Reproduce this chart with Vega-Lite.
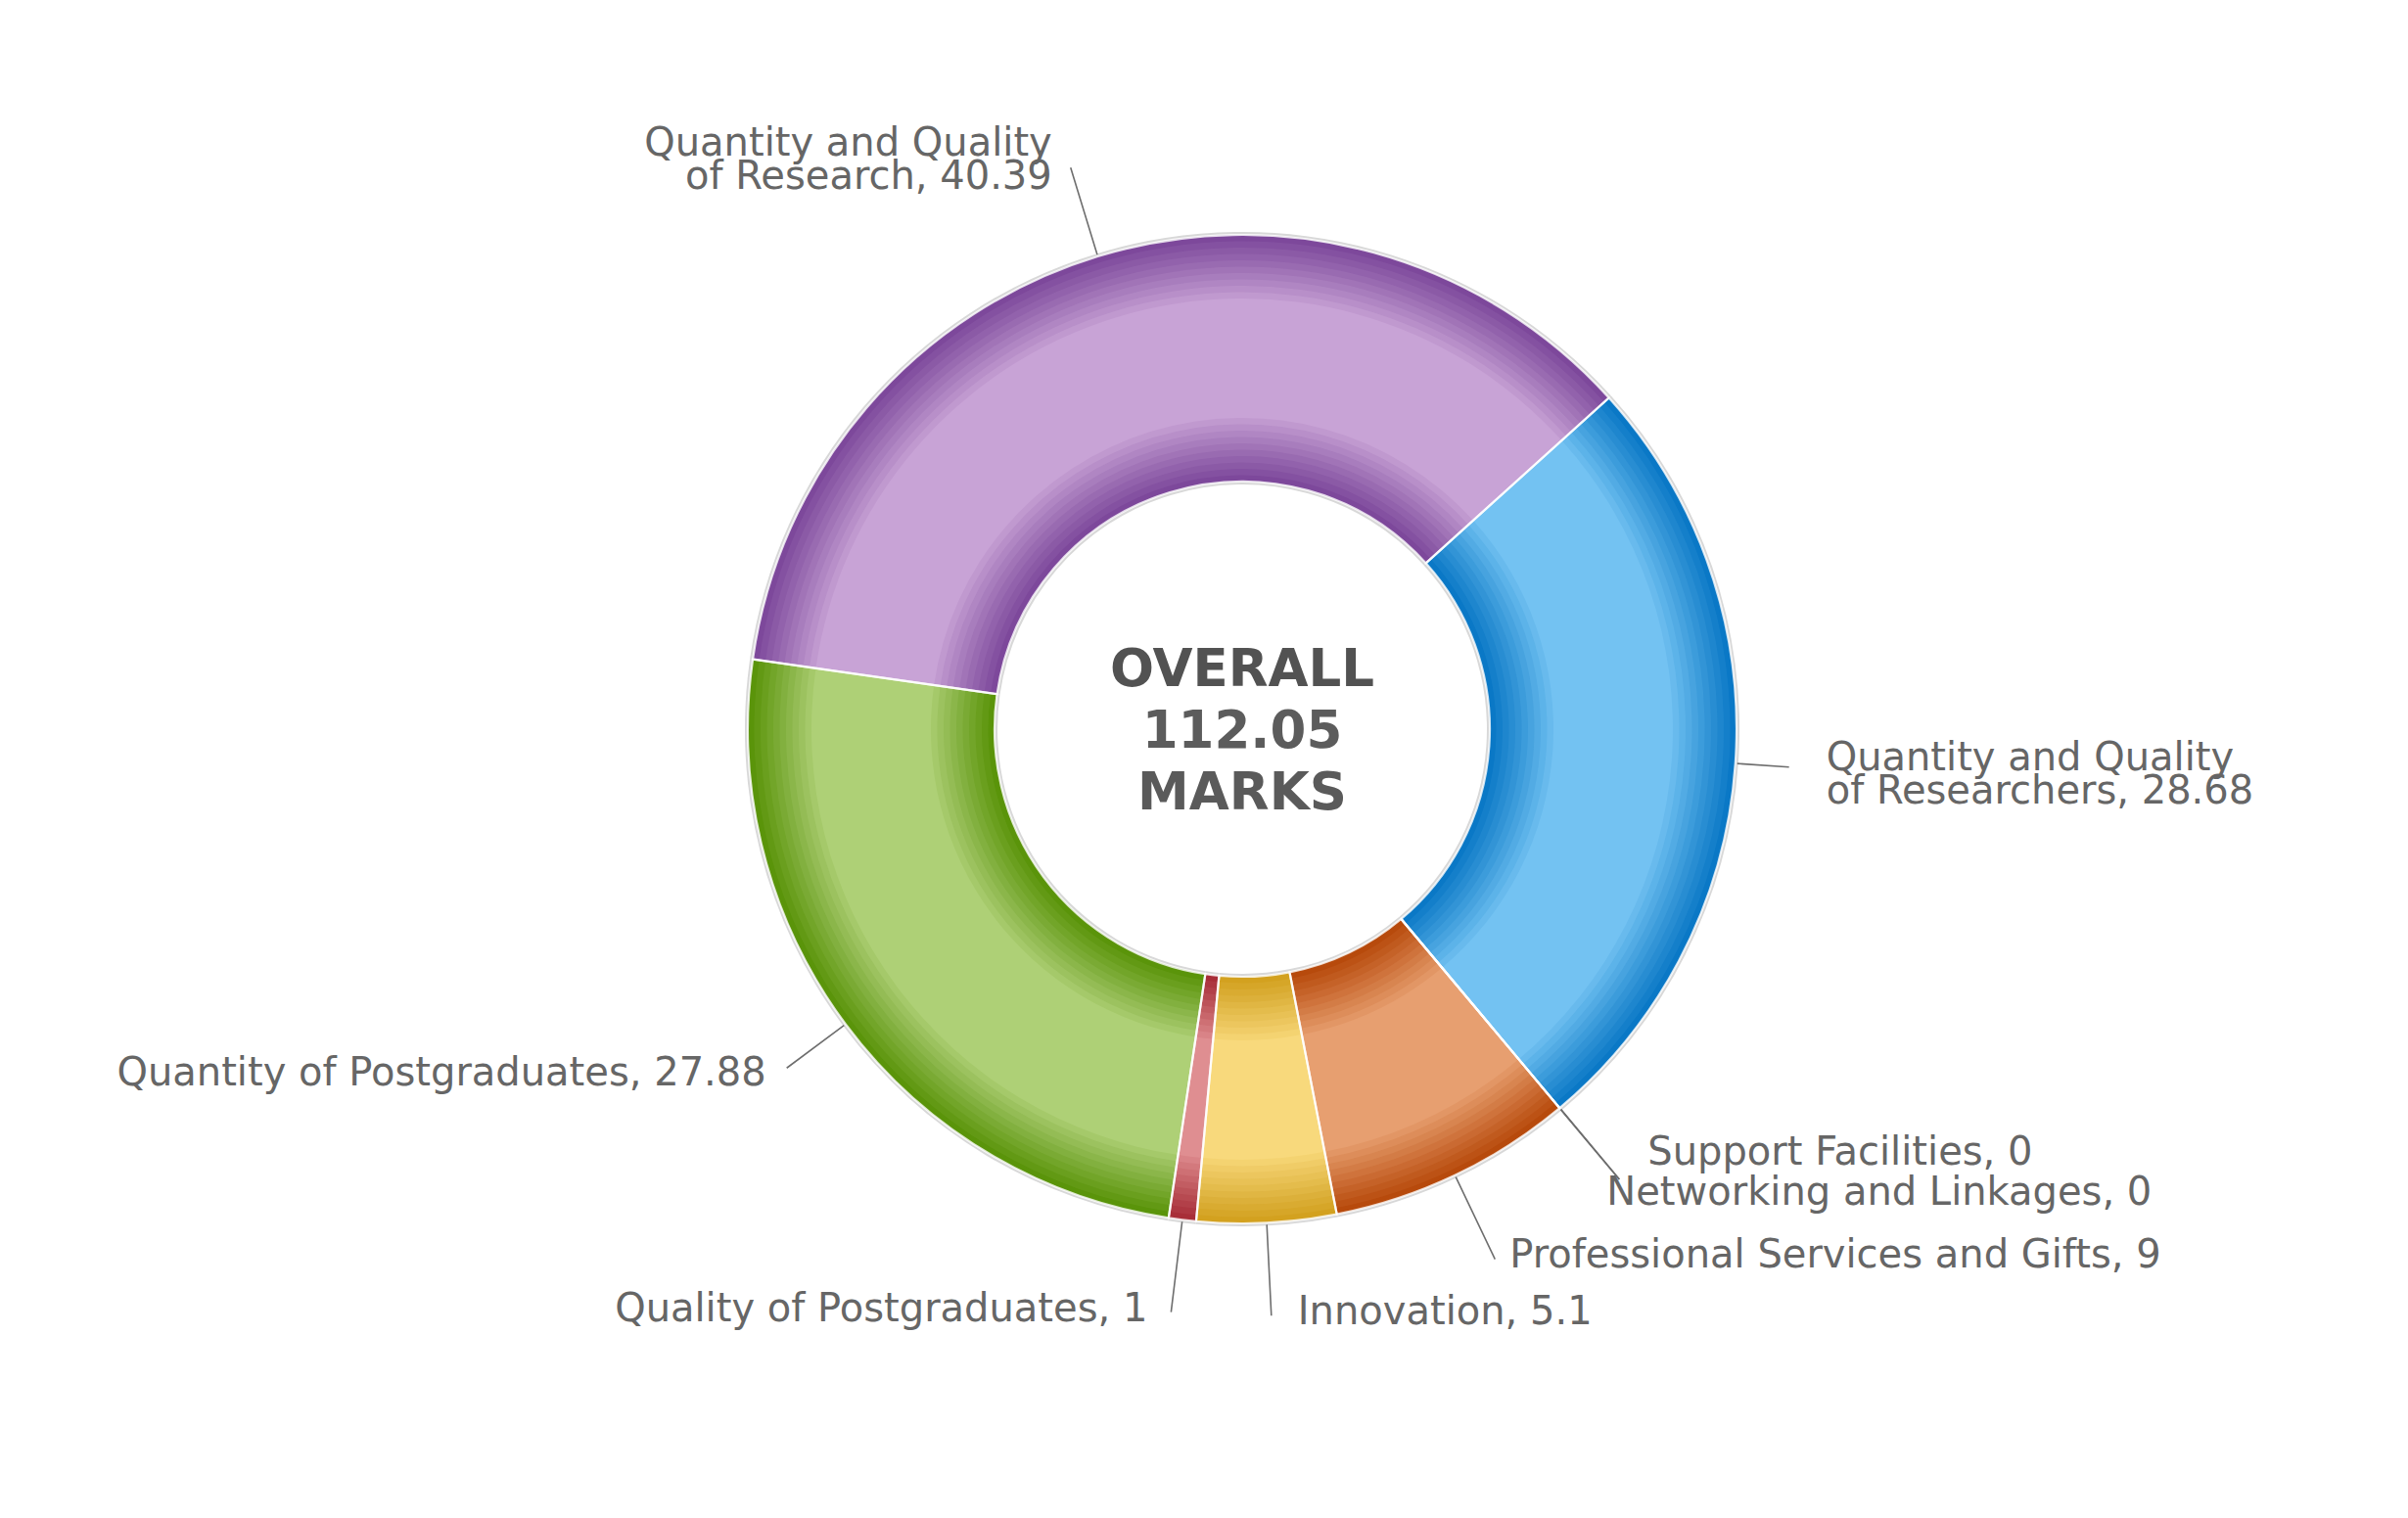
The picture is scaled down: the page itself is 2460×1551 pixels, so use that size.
{
  "$schema": "https://vega.github.io/schema/vega-lite/v6.json",
  "width": 2460,
  "height": 1551,
  "autosize": {"type": "fit", "contains": "padding"},
  "padding": {"left": 78, "top": 0, "right": 0, "bottom": 61},
  "background": "#ffffff",
  "config": {"view": {"stroke": null}},
  "data": {"values": [
    {"cat": "Quantity and Quality of Researchers", "label": "Quantity and Quality\nof Researchers, 28.68", "value": 28.68, "order": 1},
    {"cat": "Support Facilities", "label": "Support Facilities, 0", "value": 0, "order": 2},
    {"cat": "Networking and Linkages", "label": "Networking and Linkages, 0", "value": 0, "order": 3},
    {"cat": "Professional Services and Gifts", "label": "Professional Services and Gifts, 9", "value": 9, "order": 4},
    {"cat": "Innovation", "label": "Innovation, 5.1", "value": 5.1, "order": 5},
    {"cat": "Quality of Postgraduates", "label": "Quality of Postgraduates, 1", "value": 1, "order": 6},
    {"cat": "Quantity of Postgraduates", "label": "Quantity of Postgraduates, 27.88", "value": 27.88, "order": 7},
    {"cat": "Quantity and Quality of Research", "label": "Quantity and Quality\nof Research, 40.39", "value": 40.39, "order": 8}
  ]},
  "resolve": {"scale": {"color": "independent"}},
  "layer": [
    {"mark": {"type": "arc", "innerRadius": 250, "outerRadius": 508, "fill": "#d8d8d8"},
     "encoding": {"theta": {"field": "value", "type": "quantitative", "stack": true, "scale": {"range": [0.83601, 7.1192]}}, "order": {"field": "order", "type": "quantitative"}}},
    {"mark": {"type": "arc", "innerRadius": 253, "outerRadius": 505},
     "encoding": {"theta": {"field": "value", "type": "quantitative", "stack": true}, "order": {"field": "order", "type": "quantitative"},
       "color": {"field": "cat", "type": "nominal", "legend": null, "scale": {"domain": ["Quantity and Quality of Researchers","Support Facilities","Networking and Linkages","Professional Services and Gifts","Innovation","Quality of Postgraduates","Quantity of Postgraduates","Quantity and Quality of Research"], "range": ["#0a78c6","#999999","#999999","#b74a0c","#d3a11f","#a82e38","#5a940a","#7d489b"]}}}},
    {"mark": {"type": "arc", "innerRadius": 259.5, "outerRadius": 498.5, "opacity": 0.1},
     "encoding": {"theta": {"field": "value", "type": "quantitative", "stack": true}, "order": {"field": "order", "type": "quantitative"},
       "color": {"field": "cat", "type": "nominal", "legend": null, "scale": {"domain": ["Quantity and Quality of Researchers","Support Facilities","Networking and Linkages","Professional Services and Gifts","Innovation","Quality of Postgraduates","Quantity of Postgraduates","Quantity and Quality of Research"], "range": ["#73c2f2","#cccccc","#cccccc","#e79f70","#f8d97c","#df8e91","#aed076","#c8a3d6"]}}}},
    {"mark": {"type": "arc", "innerRadius": 266, "outerRadius": 492, "opacity": 0.111},
     "encoding": {"theta": {"field": "value", "type": "quantitative", "stack": true}, "order": {"field": "order", "type": "quantitative"},
       "color": {"field": "cat", "type": "nominal", "legend": null, "scale": {"domain": ["Quantity and Quality of Researchers","Support Facilities","Networking and Linkages","Professional Services and Gifts","Innovation","Quality of Postgraduates","Quantity of Postgraduates","Quantity and Quality of Research"], "range": ["#73c2f2","#cccccc","#cccccc","#e79f70","#f8d97c","#df8e91","#aed076","#c8a3d6"]}}}},
    {"mark": {"type": "arc", "innerRadius": 272.5, "outerRadius": 485.5, "opacity": 0.125},
     "encoding": {"theta": {"field": "value", "type": "quantitative", "stack": true}, "order": {"field": "order", "type": "quantitative"},
       "color": {"field": "cat", "type": "nominal", "legend": null, "scale": {"domain": ["Quantity and Quality of Researchers","Support Facilities","Networking and Linkages","Professional Services and Gifts","Innovation","Quality of Postgraduates","Quantity of Postgraduates","Quantity and Quality of Research"], "range": ["#73c2f2","#cccccc","#cccccc","#e79f70","#f8d97c","#df8e91","#aed076","#c8a3d6"]}}}},
    {"mark": {"type": "arc", "innerRadius": 279, "outerRadius": 479, "opacity": 0.143},
     "encoding": {"theta": {"field": "value", "type": "quantitative", "stack": true}, "order": {"field": "order", "type": "quantitative"},
       "color": {"field": "cat", "type": "nominal", "legend": null, "scale": {"domain": ["Quantity and Quality of Researchers","Support Facilities","Networking and Linkages","Professional Services and Gifts","Innovation","Quality of Postgraduates","Quantity of Postgraduates","Quantity and Quality of Research"], "range": ["#73c2f2","#cccccc","#cccccc","#e79f70","#f8d97c","#df8e91","#aed076","#c8a3d6"]}}}},
    {"mark": {"type": "arc", "innerRadius": 285.5, "outerRadius": 472.5, "opacity": 0.167},
     "encoding": {"theta": {"field": "value", "type": "quantitative", "stack": true}, "order": {"field": "order", "type": "quantitative"},
       "color": {"field": "cat", "type": "nominal", "legend": null, "scale": {"domain": ["Quantity and Quality of Researchers","Support Facilities","Networking and Linkages","Professional Services and Gifts","Innovation","Quality of Postgraduates","Quantity of Postgraduates","Quantity and Quality of Research"], "range": ["#73c2f2","#cccccc","#cccccc","#e79f70","#f8d97c","#df8e91","#aed076","#c8a3d6"]}}}},
    {"mark": {"type": "arc", "innerRadius": 292, "outerRadius": 466, "opacity": 0.2},
     "encoding": {"theta": {"field": "value", "type": "quantitative", "stack": true}, "order": {"field": "order", "type": "quantitative"},
       "color": {"field": "cat", "type": "nominal", "legend": null, "scale": {"domain": ["Quantity and Quality of Researchers","Support Facilities","Networking and Linkages","Professional Services and Gifts","Innovation","Quality of Postgraduates","Quantity of Postgraduates","Quantity and Quality of Research"], "range": ["#73c2f2","#cccccc","#cccccc","#e79f70","#f8d97c","#df8e91","#aed076","#c8a3d6"]}}}},
    {"mark": {"type": "arc", "innerRadius": 298.5, "outerRadius": 459.5, "opacity": 0.25},
     "encoding": {"theta": {"field": "value", "type": "quantitative", "stack": true}, "order": {"field": "order", "type": "quantitative"},
       "color": {"field": "cat", "type": "nominal", "legend": null, "scale": {"domain": ["Quantity and Quality of Researchers","Support Facilities","Networking and Linkages","Professional Services and Gifts","Innovation","Quality of Postgraduates","Quantity of Postgraduates","Quantity and Quality of Research"], "range": ["#73c2f2","#cccccc","#cccccc","#e79f70","#f8d97c","#df8e91","#aed076","#c8a3d6"]}}}},
    {"mark": {"type": "arc", "innerRadius": 305, "outerRadius": 453, "opacity": 0.333},
     "encoding": {"theta": {"field": "value", "type": "quantitative", "stack": true}, "order": {"field": "order", "type": "quantitative"},
       "color": {"field": "cat", "type": "nominal", "legend": null, "scale": {"domain": ["Quantity and Quality of Researchers","Support Facilities","Networking and Linkages","Professional Services and Gifts","Innovation","Quality of Postgraduates","Quantity of Postgraduates","Quantity and Quality of Research"], "range": ["#73c2f2","#cccccc","#cccccc","#e79f70","#f8d97c","#df8e91","#aed076","#c8a3d6"]}}}},
    {"mark": {"type": "arc", "innerRadius": 311.5, "outerRadius": 446.5, "opacity": 0.5},
     "encoding": {"theta": {"field": "value", "type": "quantitative", "stack": true}, "order": {"field": "order", "type": "quantitative"},
       "color": {"field": "cat", "type": "nominal", "legend": null, "scale": {"domain": ["Quantity and Quality of Researchers","Support Facilities","Networking and Linkages","Professional Services and Gifts","Innovation","Quality of Postgraduates","Quantity of Postgraduates","Quantity and Quality of Research"], "range": ["#73c2f2","#cccccc","#cccccc","#e79f70","#f8d97c","#df8e91","#aed076","#c8a3d6"]}}}},
    {"mark": {"type": "arc", "innerRadius": 318, "outerRadius": 440, "opacity": 1},
     "encoding": {"theta": {"field": "value", "type": "quantitative", "stack": true}, "order": {"field": "order", "type": "quantitative"},
       "color": {"field": "cat", "type": "nominal", "legend": null, "scale": {"domain": ["Quantity and Quality of Researchers","Support Facilities","Networking and Linkages","Professional Services and Gifts","Innovation","Quality of Postgraduates","Quantity of Postgraduates","Quantity and Quality of Research"], "range": ["#73c2f2","#cccccc","#cccccc","#e79f70","#f8d97c","#df8e91","#aed076","#c8a3d6"]}}}},
    {"mark": {"type": "arc", "innerRadius": 253, "outerRadius": 505, "fill": "#ffffff", "fillOpacity": 0, "stroke": "#ffffff", "strokeOpacity": 0.8, "strokeWidth": 2.2},
     "encoding": {"theta": {"field": "value", "type": "quantitative", "stack": true}, "order": {"field": "order", "type": "quantitative"}}},
    {"mark": {"type": "arc", "innerRadius": 507, "outerRadius": 600, "padAngle": 3, "fill": "#ffffff", "fillOpacity": 0, "stroke": "#6e6e6e", "strokeWidth": 1.6},
     "encoding": {"theta": {"field": "value", "type": "quantitative", "stack": true}, "order": {"field": "order", "type": "quantitative"},
       "strokeOpacity": {"condition": {"test": "datum.cat === 'Quantity and Quality of Researchers' || datum.cat === 'Quantity of Postgraduates'", "value": 0}, "value": 1}}},
    {"mark": {"type": "arc", "innerRadius": 507, "outerRadius": 560, "padAngle": 3, "fill": "#ffffff", "fillOpacity": 0, "stroke": "#6e6e6e", "strokeWidth": 1.6},
     "encoding": {"theta": {"field": "value", "type": "quantitative", "stack": true}, "order": {"field": "order", "type": "quantitative"},
       "strokeOpacity": {"condition": {"test": "datum.cat === 'Quantity and Quality of Researchers'", "value": 1}, "value": 0}}},
    {"mark": {"type": "arc", "innerRadius": 507, "outerRadius": 580, "padAngle": 3, "fill": "#ffffff", "fillOpacity": 0, "stroke": "#6e6e6e", "strokeWidth": 1.6},
     "encoding": {"theta": {"field": "value", "type": "quantitative", "stack": true}, "order": {"field": "order", "type": "quantitative"},
       "strokeOpacity": {"condition": {"test": "datum.cat === 'Quantity of Postgraduates'", "value": 1}, "value": 0}}},
    {"mark": {"type": "text", "radius": 600, "align": "right", "baseline": "middle", "dx": -19, "dy": -24, "font": "DejaVu Sans", "fontSize": 40, "lineHeight": 34, "lineBreak": "\n", "color": "#666666"},
     "encoding": {"theta": {"field": "value", "type": "quantitative", "stack": true}, "order": {"field": "order", "type": "quantitative"},
       "text": {"condition": {"test": "datum.cat === 'Quantity and Quality of Research'", "field": "label", "type": "nominal"}, "value": ""}}},
    {"mark": {"type": "text", "radius": 560, "align": "left", "baseline": "middle", "dx": 38, "dy": -9, "font": "DejaVu Sans", "fontSize": 40, "lineHeight": 34, "lineBreak": "\n", "color": "#666666"},
     "encoding": {"theta": {"field": "value", "type": "quantitative", "stack": true}, "order": {"field": "order", "type": "quantitative"},
       "text": {"condition": {"test": "datum.cat === 'Quantity and Quality of Researchers'", "field": "label", "type": "nominal"}, "value": ""}}},
    {"mark": {"type": "text", "radius": 600, "align": "left", "baseline": "middle", "dx": 29, "dy": -27, "font": "DejaVu Sans", "fontSize": 40, "lineHeight": 34, "lineBreak": "\n", "color": "#666666"},
     "encoding": {"theta": {"field": "value", "type": "quantitative", "stack": true}, "order": {"field": "order", "type": "quantitative"},
       "text": {"condition": {"test": "datum.cat === 'Support Facilities'", "field": "label", "type": "nominal"}, "value": ""}}},
    {"mark": {"type": "text", "radius": 600, "align": "left", "baseline": "middle", "dx": -13, "dy": 14, "font": "DejaVu Sans", "fontSize": 40, "lineHeight": 34, "lineBreak": "\n", "color": "#666666"},
     "encoding": {"theta": {"field": "value", "type": "quantitative", "stack": true}, "order": {"field": "order", "type": "quantitative"},
       "text": {"condition": {"test": "datum.cat === 'Networking and Linkages'", "field": "label", "type": "nominal"}, "value": ""}}},
    {"mark": {"type": "text", "radius": 600, "align": "left", "baseline": "middle", "dx": 15, "dy": -4, "font": "DejaVu Sans", "fontSize": 40, "lineHeight": 34, "lineBreak": "\n", "color": "#666666"},
     "encoding": {"theta": {"field": "value", "type": "quantitative", "stack": true}, "order": {"field": "order", "type": "quantitative"},
       "text": {"condition": {"test": "datum.cat === 'Professional Services and Gifts'", "field": "label", "type": "nominal"}, "value": ""}}},
    {"mark": {"type": "text", "radius": 600, "align": "left", "baseline": "middle", "dx": 27, "dy": -3, "font": "DejaVu Sans", "fontSize": 40, "lineHeight": 34, "lineBreak": "\n", "color": "#666666"},
     "encoding": {"theta": {"field": "value", "type": "quantitative", "stack": true}, "order": {"field": "order", "type": "quantitative"},
       "text": {"condition": {"test": "datum.cat === 'Innovation'", "field": "label", "type": "nominal"}, "value": ""}}},
    {"mark": {"type": "text", "radius": 600, "align": "right", "baseline": "middle", "dx": -24, "dy": -3, "font": "DejaVu Sans", "fontSize": 40, "lineHeight": 34, "lineBreak": "\n", "color": "#666666"},
     "encoding": {"theta": {"field": "value", "type": "quantitative", "stack": true}, "order": {"field": "order", "type": "quantitative"},
       "text": {"condition": {"test": "datum.cat === 'Quality of Postgraduates'", "field": "label", "type": "nominal"}, "value": ""}}},
    {"mark": {"type": "text", "radius": 580, "align": "right", "baseline": "middle", "dx": -21, "dy": 6, "font": "DejaVu Sans", "fontSize": 40, "lineHeight": 34, "lineBreak": "\n", "color": "#666666"},
     "encoding": {"theta": {"field": "value", "type": "quantitative", "stack": true}, "order": {"field": "order", "type": "quantitative"},
       "text": {"condition": {"test": "datum.cat === 'Quantity of Postgraduates'", "field": "label", "type": "nominal"}, "value": ""}}},
    {"transform": [{"aggregate": [{"op": "sum", "field": "value", "as": "total"}]}],
     "mark": {"type": "text", "text": "OVERALL", "align": "center", "baseline": "middle", "dy": -60, "font": "DejaVu Sans", "fontWeight": "bold", "fontSize": 53, "color": "#525252"},
     "encoding": {}},
    {"transform": [{"aggregate": [{"op": "sum", "field": "value", "as": "total"}]}],
     "mark": {"type": "text", "align": "center", "baseline": "middle", "dy": 3, "font": "DejaVu Sans", "fontWeight": "bold", "fontSize": 53, "color": "#5c5c5c"},
     "encoding": {"text": {"field": "total", "type": "quantitative", "format": ".2f"}}},
    {"transform": [{"aggregate": [{"op": "sum", "field": "value", "as": "total"}]}],
     "mark": {"type": "text", "text": "MARKS", "align": "center", "baseline": "middle", "dy": 66, "font": "DejaVu Sans", "fontWeight": "bold", "fontSize": 53, "color": "#5a5a5a"},
     "encoding": {}}
  ]
}
